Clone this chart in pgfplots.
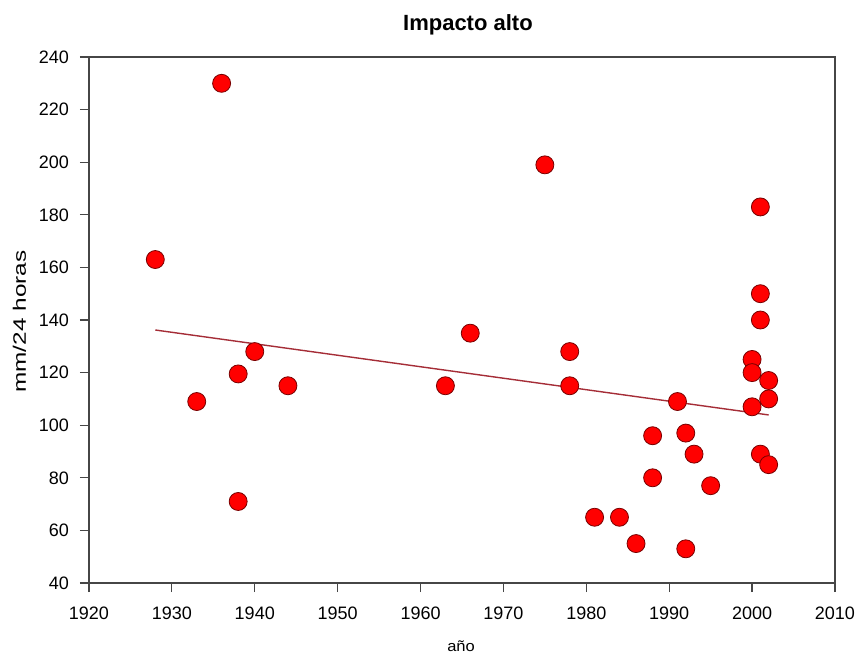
\documentclass[border=0pt]{standalone}
\usepackage{pgfplots}
\pgfplotsset{compat=1.18}
\usepackage{fontspec}
\setmainfont{Liberation Sans}[FakeStretch=1.1]
\newfontfamily\tickfont{Liberation Sans}
\newfontfamily\titlefont{Liberation Sans}
\newfontfamily\ylabfont{Liberation Sans}[FakeStretch=1.35]
\definecolor{trend}{RGB}{165,45,55}
\definecolor{mkedge}{RGB}{120,0,0}
\definecolor{frame}{RGB}{70,70,70}
\begin{document}
\begin{tikzpicture}
\begin{axis}[
  scale only axis,
  width=373pt, height=263pt,
  xmin=1920, xmax=2010, ymin=40, ymax=240,
  xtick distance=10, ytick distance=20,
  tick align=outside,
  xtick pos=bottom, ytick pos=left,
  major tick length=4.5pt,
  axis line style={frame, line width=0.7pt},
  every tick/.style={frame, line width=0.6pt},
  /pgf/number format/assume math mode=true,
  x tick label style={/pgf/number format/1000 sep={}, font=\tickfont\fontsize{9}{11}\selectfont, yshift=-4pt},
  y tick label style={font=\tickfont\fontsize{9}{11}\selectfont, xshift=-2pt},
  clip=false,
]
\addplot[trend, line width=0.7pt] coordinates {(1928,136.2) (2002,103.9)};
\addplot[only marks, mark=*, mark size=4.5pt, mark options={fill=red, draw=mkedge, line width=0.4pt}] coordinates {
(1928,163) (1933,109) (1936,230) (1938,119.5) (1938,71) (1940,128) (1944,115)
(1963,115) (1966,135) (1975,199) (1978,128) (1978,115)
(1981,65) (1984,65) (1986,55) (1988,96) (1988,80) (1991,109)
(1992,97) (1992,53) (1993,89) (1995,77)
(2000,125) (2000,120) (2000,107)
(2001,183) (2001,150) (2001,140) (2001,89)
(2002,117) (2002,110) (2002,85)
};
\node[anchor=base, font=\titlefont\bfseries\fontsize{11}{13}\selectfont] at (rel axis cs:0.508,1.0513) {Impacto alto};
\node[anchor=base, font=\fontsize{7.5}{9}\selectfont] at (rel axis cs:0.4987,-0.131) {año};
\node[anchor=base, rotate=90, font=\ylabfont\fontsize{9}{11}\selectfont] at (rel axis cs:-0.0845,0.497) {mm/24 horas};
\coordinate (bbA) at (rel axis cs:-0.1193,-0.135);
\coordinate (bbB) at (rel axis cs:1.0349,1.1084);
\end{axis}
\pgfresetboundingbox
\path (bbA) rectangle (bbB);
\end{tikzpicture}
\end{document}
